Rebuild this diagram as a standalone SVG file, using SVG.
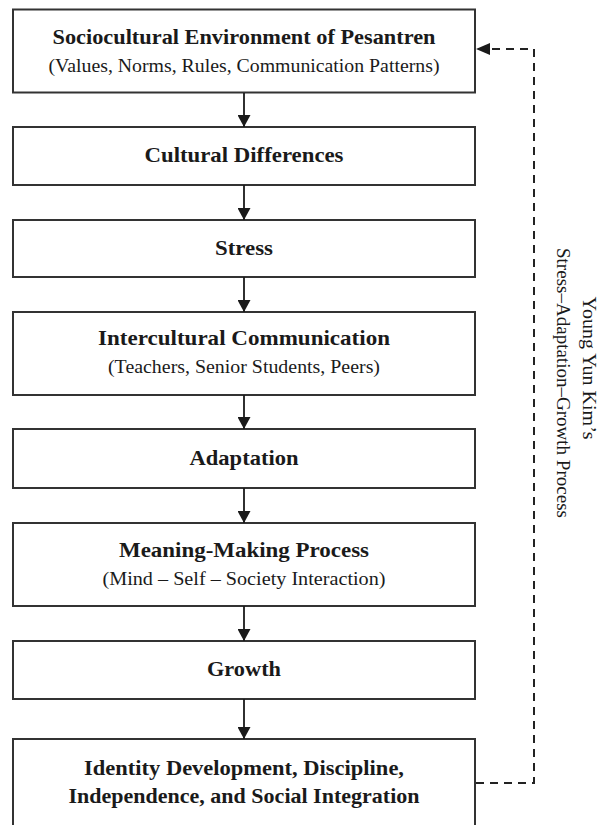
<svg xmlns="http://www.w3.org/2000/svg" width="600" height="825" viewBox="0 0 600 825">
  <defs>
    <style>
      .box { fill: #ffffff; stroke: #333333; stroke-width: 2; }
      .t { font-family: "Liberation Serif", "Times New Roman", serif; font-weight: bold; font-size: 21px; fill: #1a1a1a; text-anchor: middle; }
      .s { font-family: "Liberation Serif", "Times New Roman", serif; font-size: 18.5px; fill: #1a1a1a; text-anchor: middle; }
      .v { font-family: "Liberation Serif", "Times New Roman", serif; font-size: 19px; fill: #1a1a1a; text-anchor: middle; }
      .arrow { fill: none; stroke: #1a1a1a; stroke-width: 1.8; }
      .dash { fill: none; stroke: #222222; stroke-width: 2; stroke-dasharray: 8 6; }
    </style>
    <marker id="ah" viewBox="0 0 12 13" refX="12" refY="6.5" markerWidth="12" markerHeight="13" markerUnits="userSpaceOnUse" orient="auto">
      <path d="M0,0 L12,6.5 L0,13 Z" fill="#1a1a1a"/>
    </marker>
  </defs>
  <rect width="600" height="825" fill="#ffffff"/>

  <g id="n1">
    <rect class="box" x="13" y="9.5" width="462" height="83"/>
    <text class="t" x="244" y="44" textLength="383" lengthAdjust="spacingAndGlyphs">Sociocultural Environment of Pesantren</text>
    <text class="s" x="244" y="72" textLength="391" lengthAdjust="spacingAndGlyphs">(Values, Norms, Rules, Communication Patterns)</text>
  </g>
  <g id="n2">
    <rect class="box" x="13" y="127" width="462" height="58"/>
    <text class="t" x="244" y="162" textLength="199" lengthAdjust="spacingAndGlyphs">Cultural Differences</text>
  </g>
  <g id="n3">
    <rect class="box" x="13" y="220" width="462" height="57"/>
    <text class="t" x="244" y="255" textLength="58" lengthAdjust="spacingAndGlyphs">Stress</text>
  </g>
  <g id="n4">
    <rect class="box" x="13" y="312" width="462" height="83"/>
    <text class="t" x="244" y="345" textLength="292" lengthAdjust="spacingAndGlyphs">Intercultural Communication</text>
    <text class="s" x="244" y="373" textLength="272" lengthAdjust="spacingAndGlyphs">(Teachers, Senior Students, Peers)</text>
  </g>
  <g id="n5">
    <rect class="box" x="13" y="429" width="462" height="59"/>
    <text class="t" x="244" y="465" textLength="109" lengthAdjust="spacingAndGlyphs">Adaptation</text>
  </g>
  <g id="n6">
    <rect class="box" x="13" y="523" width="462" height="83"/>
    <text class="t" x="244" y="557" textLength="250" lengthAdjust="spacingAndGlyphs">Meaning-Making Process</text>
    <text class="s" x="244" y="585" textLength="283" lengthAdjust="spacingAndGlyphs">(Mind – Self – Society Interaction)</text>
  </g>
  <g id="n7">
    <rect class="box" x="13" y="641" width="462" height="58"/>
    <text class="t" x="244" y="676" textLength="74" lengthAdjust="spacingAndGlyphs">Growth</text>
  </g>
  <g id="n8">
    <rect class="box" x="13" y="739" width="462" height="100"/>
    <text class="t" x="244" y="775" textLength="320" lengthAdjust="spacingAndGlyphs">Identity Development, Discipline,</text>
    <text class="t" x="244" y="803" textLength="351" lengthAdjust="spacingAndGlyphs">Independence, and Social Integration</text>
  </g>

  <g id="label">
    <text class="v" transform="translate(583,368) rotate(90)" textLength="143" lengthAdjust="spacingAndGlyphs">Young Yun Kim’s</text>
    <text class="v" transform="translate(557,383) rotate(90)" textLength="270" lengthAdjust="spacingAndGlyphs">Stress–Adaptation–Growth Process</text>
  </g>

  <g id="connectors">
    <path class="arrow" d="M244,93 V127" marker-end="url(#ah)"/>
    <path class="arrow" d="M244,185 V220" marker-end="url(#ah)"/>
    <path class="arrow" d="M244,277 V312" marker-end="url(#ah)"/>
    <path class="arrow" d="M244,395 V429" marker-end="url(#ah)"/>
    <path class="arrow" d="M244,488 V523" marker-end="url(#ah)"/>
    <path class="arrow" d="M244,606 V641" marker-end="url(#ah)"/>
    <path class="arrow" d="M244,699 V739" marker-end="url(#ah)"/>
    <path class="dash" d="M476,783 H534 V49 H490"/>
    <path d="M476,49 L490,43 L490,55 Z" fill="#1a1a1a"/>
  </g>
</svg>
